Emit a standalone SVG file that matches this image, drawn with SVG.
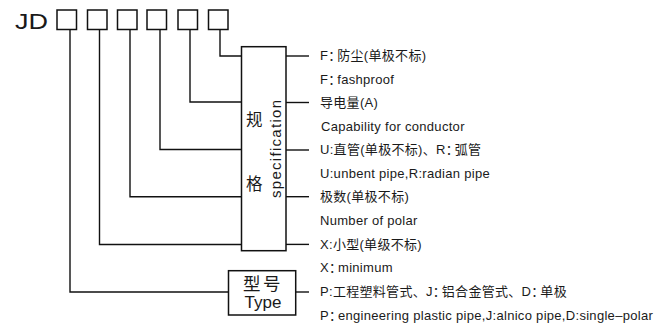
<svg xmlns="http://www.w3.org/2000/svg" width="663" height="324" viewBox="0 0 663 324">
<style>
  text { font-family: "Liberation Sans", "Noto Sans CJK SC", Arial, sans-serif; fill: #1a1a1a; }
  .lbl { font-size: 13px; letter-spacing: 0.3px; }
  .fc { letter-spacing: -4px; }
  .box { fill: #fff; stroke: #111; stroke-width: 1.5; }
  .ln { fill: none; stroke: #111; stroke-width: 1.4; }
</style>
<rect width="663" height="324" fill="#fff"/>

<g id="code">
  <text x="15" y="28.5" font-size="21.5" textLength="33" lengthAdjust="spacingAndGlyphs">JD</text>
  <rect class="box" x="57" y="10" width="19.5" height="19.5"/>
  <rect class="box" x="87.5" y="10" width="19.5" height="19.5"/>
  <rect class="box" x="117.5" y="10" width="19.5" height="19.5"/>
  <rect class="box" x="147" y="10" width="19.5" height="19.5"/>
  <rect class="box" x="178" y="10" width="19.5" height="19.5"/>
  <rect class="box" x="208.5" y="10" width="19.5" height="19.5"/>
</g>

<g id="connectors">
  <path class="ln" d="M220 29.5 V56 H241.5"/>
  <path class="ln" d="M190 29.5 V102 H241.5"/>
  <path class="ln" d="M160 29.5 V149.5 H241.5"/>
  <path class="ln" d="M130 29.5 V196.7 H241.5"/>
  <path class="ln" d="M99.5 29.5 V244.5 H241.5"/>
  <path class="ln" d="M70 29.5 V292 H228.5"/>
  <path class="ln" d="M286 56 H309" stroke-width="2"/>
  <path class="ln" d="M286 102.5 H309"/>
  <path class="ln" d="M286 150 H309"/>
  <path class="ln" d="M286 196.7 H309"/>
  <path class="ln" d="M286 244.4 H309"/>
  <path class="ln" d="M295.7 292 H309"/>
</g>

<g id="spec">
  <rect class="box" x="241.5" y="46.7" width="44.5" height="204"/>
  <text x="246" y="126" font-size="16.5">规</text>
  <text x="246" y="190" font-size="16.5">格</text>
  <text transform="translate(280.5 149) rotate(-90)" text-anchor="middle" font-size="15" textLength="98" lengthAdjust="spacing">specification</text>
</g>

<g id="type">
  <rect class="box" x="228.5" y="270.7" width="67.2" height="44.3"/>
  <text x="243" y="290" font-size="17.5" letter-spacing="2.5">型号</text>
  <text x="244.5" y="308" font-size="17">Type</text>
</g>

<g id="labels">
  <text class="lbl" x="320" y="60">F<tspan class="fc">：</tspan>防尘(单极不标)</text>
  <text class="lbl" x="320" y="83.5">F<tspan class="fc">：</tspan>fashproof</text>
  <text class="lbl" x="320" y="107">导电量(A)</text>
  <text class="lbl" x="321" y="130.7">Capability for conductor</text>
  <text class="lbl" x="320" y="154">U:直管(单极不标)、R<tspan class="fc">：</tspan>弧管</text>
  <text class="lbl" x="320" y="177.5">U:unbent pipe,R:radian pipe</text>
  <text class="lbl" x="320" y="201">极数(单极不标)</text>
  <text class="lbl" x="320" y="224.5">Number of polar</text>
  <text class="lbl" x="320" y="248.5">X:小型(单级不标)</text>
  <text class="lbl" x="320" y="272">X<tspan class="fc">：</tspan>minimum</text>
  <text class="lbl" x="320" y="295.5">P:工程塑料管式、J<tspan class="fc">：</tspan>铝合金管式、D<tspan class="fc">：</tspan>单极</text>
  <text class="lbl" x="320" y="320">P<tspan class="fc">：</tspan>engineering plastic pipe,J:alnico pipe,D:single–polar</text>
</g>
</svg>
